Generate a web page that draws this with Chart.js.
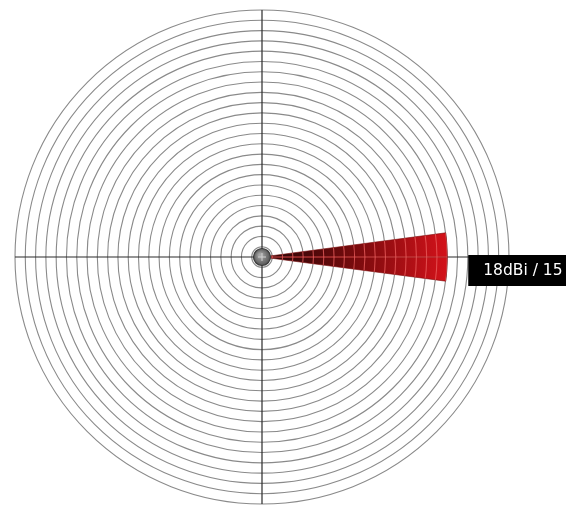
<!DOCTYPE html>
<html>
<head>
<meta charset="utf-8">
<script src="https://cdn.jsdelivr.net/npm/chart.js@4"></script>
<style>
  html, body { margin: 0; padding: 0; background: #fff; }
  #wrap { width: 566px; height: 506px; }
</style>
</head>
<body>
<div id="wrap"><canvas id="beamChart" width="566" height="506"></canvas></div>
<script>
// sectors around the antenna, clockwise from east (the beam is centred on east)
const sectors = ['0° to +7.5°', '+7.5° to 180°', '180° to 352.5°', '352.5° to 360°'];
const sectorSpan = [7.5, 172.5, 172.5, 7.5];   // degrees
const gainRings = [18, 0, 0, 18];               // radial value, one ring per unit
const ringMax = 24;
const gainLabel = '18dBi';
const beamWidth = 15;

// set while the grid is redrawn on top of the beam
let gridOverBeam = false;

// radial gradient: dark near the antenna, bright red at the beam tip
function beamFill(context) {
    const chart = context.chart;
    const r = chart.scales.r;
    if (!r || !chart.chartArea) return '#a01010';
    const reach = r.getDistanceFromCenterForValue(Math.max(...gainRings));
    const g = chart.ctx.createRadialGradient(r.xCenter, r.yCenter, 0, r.xCenter, r.yCenter, reach);
    g.addColorStop(0, '#1e0606');
    g.addColorStop(0.45, '#6e0a0c');
    g.addColorStop(1, '#d3121a');
    return g;
}

// redraw the rings inside the beam so its cells show, like the original
const beamGrid = {
    id: 'beamGrid',
    afterDatasetsDraw(chart) {
        const r = chart.scales.r;
        const ctx = chart.ctx;
        const reach = r.getDistanceFromCenterForValue(Math.max(...gainRings));
        const half = beamWidth / 2 * Math.PI / 180;
        ctx.save();
        ctx.beginPath();
        ctx.moveTo(r.xCenter, r.yCenter);
        ctx.arc(r.xCenter, r.yCenter, reach, -half, half);
        ctx.closePath();
        ctx.clip();
        gridOverBeam = true;
        r.drawGrid();
        gridOverBeam = false;
        ctx.restore();
    }
};

// antenna hub and the gain / beamwidth tag
const beamDecor = {
    id: 'beamDecor',
    afterDraw(chart) {
        const r = chart.scales.r;
        const ctx = chart.ctx;
        const cx = r.xCenter, cy = r.yCenter;
        ctx.save();

        // hub
        const hub = ctx.createRadialGradient(cx - 2, cy - 2, 1, cx, cy, 9);
        hub.addColorStop(0, '#a8a8a8');
        hub.addColorStop(1, '#505050');
        ctx.beginPath();
        ctx.arc(cx, cy, 8.5, 0, Math.PI * 2);
        ctx.fillStyle = hub;
        ctx.fill();
        ctx.lineWidth = 1.2;
        ctx.strokeStyle = '#3a3a3a';
        ctx.stroke();
        ctx.beginPath();
        ctx.moveTo(cx - 4, cy); ctx.lineTo(cx + 4, cy);
        ctx.moveTo(cx, cy - 4); ctx.lineTo(cx, cy + 4);
        ctx.strokeStyle = '#d0d0d0';
        ctx.lineWidth = 1;
        ctx.stroke();

        // tag
        const tip = r.getDistanceFromCenterForValue(Math.max(...gainRings));
        const bx = cx + tip + 21;
        const by = cy - 2;
        ctx.fillStyle = '#000';
        ctx.fillRect(bx, by, chart.width - bx, 31);
        ctx.fillStyle = '#fff';
        ctx.font = '15.5px "DejaVu Sans", Verdana, sans-serif';
        ctx.textBaseline = 'middle';
        ctx.fillText(`${gainLabel} / ${beamWidth}`, bx + 15, by + 16);
        ctx.restore();
    }
};

new Chart(document.getElementById('beamChart'), {
    type: 'polarArea',
    data: {
        labels: sectors,
        datasets: [{
            data: gainRings,
            angle: sectorSpan,
            backgroundColor: beamFill,
            borderColor: '#7a0c0c',
            borderWidth: 0.6
        }]
    },
    options: {
        responsive: false,
        animation: false,
        layout: { padding: { left: 15, right: 57, top: 10, bottom: 2 } },
        plugins: {
            legend: { display: false },
            tooltip: { enabled: false }
        },
        scales: {
            r: {
                min: 0,
                max: ringMax,
                startAngle: 90,
                ticks: { display: false, stepSize: 1 },
                grid: {
                    circular: true,
                    color: () => gridOverBeam ? 'rgba(235, 95, 95, 0.75)' : '#8a8a8a',
                    lineWidth: 1.1
                },
                angleLines: {
                    display: true,
                    color: () => gridOverBeam ? 'rgba(235, 95, 95, 0.75)' : '#2a2a2a',
                    lineWidth: 1.2
                },
                pointLabels: { display: false }
            }
        }
    },
    plugins: [beamGrid, beamDecor]
});
</script>
</body>
</html>
